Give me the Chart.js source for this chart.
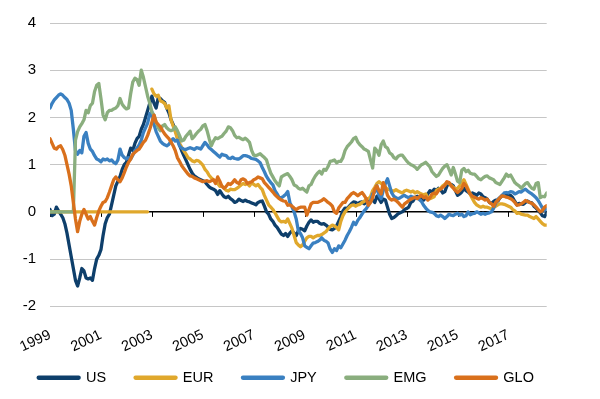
<!DOCTYPE html>
<html><head><meta charset="utf-8">
<script src="https://cdn.jsdelivr.net/npm/chart.js@4/dist/chart.umd.min.js"></script>
<style>html,body{margin:0;padding:0;background:#fff}</style>
</head><body>
<canvas id="c" width="600" height="399"></canvas>
<script>
// Monthly values, Jan 1999 .. Jul 2018 (one row per year)
const tickLabels = ['1999','2001','2003','2005','2007','2009','2011','2013','2015','2017'];
const seriesNames = ['US','EUR','JPY','EMG','GLO'];

const US = [
 0.05,-0.08,-0.05,0.1,0.02,-0.05,-0.12,-0.25,-0.45,-0.7,-0.95,-1.2,
 -1.45,-1.57,-1.4,-1.2,-1.25,-1.4,-1.42,-1.4,-1.45,-1.2,-1.0,-0.92,
 -0.8,-0.5,-0.25,-0.12,-0.05,0.15,0.35,0.55,0.65,0.75,0.9,1.0,
 1.05,1.2,1.35,1.3,1.45,1.55,1.6,1.75,1.85,2.0,2.15,2.3,
 2.45,2.3,2.2,2.42,2.4,2.35,2.32,2.2,2.1,1.95,1.85,1.75,
 1.6,1.42,1.3,1.2,1.1,1.0,0.9,0.82,0.76,0.73,0.7,0.68,
 0.66,0.64,0.58,0.53,0.5,0.48,0.45,0.37,0.45,0.38,0.32,0.3,
 0.33,0.28,0.25,0.2,0.22,0.27,0.24,0.22,0.25,0.22,0.21,0.19,
 0.17,0.15,0.2,0.22,0.23,0.12,0.0,-0.05,-0.15,-0.2,-0.28,-0.33,
 -0.4,-0.47,-0.5,-0.46,-0.52,-0.45,-0.4,-0.45,-0.5,-0.4,-0.35,-0.37,
 -0.4,-0.3,-0.22,-0.17,-0.22,-0.2,-0.2,-0.24,-0.26,-0.25,-0.28,-0.32,
 -0.37,-0.38,-0.35,-0.3,-0.2,-0.1,0.02,0.08,0.07,0.12,0.17,0.21,
 0.2,0.17,0.2,0.21,0.17,0.2,0.23,0.27,0.25,0.2,0.33,0.28,
 0.2,0.27,0.25,0.1,-0.05,-0.14,-0.12,-0.08,-0.04,-0.02,0.0,0.05,
 0.07,0.1,0.2,0.23,0.3,0.33,0.3,0.32,0.25,0.3,0.38,0.45,
 0.42,0.48,0.45,0.5,0.47,0.4,0.43,0.55,0.6,0.58,0.55,0.45,
 0.35,0.38,0.42,0.5,0.45,0.42,0.38,0.4,0.38,0.35,0.4,0.38,
 0.32,0.3,0.27,0.2,0.18,0.22,0.25,0.23,0.3,0.35,0.38,0.36,
 0.34,0.35,0.3,0.22,0.15,0.18,0.17,0.16,0.2,0.23,0.2,0.19,
 0.12,0.08,0.03,-0.02,-0.08,-0.1,-0.02
];

const EUR = [
 0,0,0,0,0,0,0,0,0,0,0,0,
 0,0,0,0,0,0,0,0,0,0,0,0,
 0,0,0,0,0,0,0,0,0,0,0,0,
 0,0,0,0,0,0,0,0,0,0,0,null,
 2.6,2.5,2.45,2.47,2.35,2.33,2.3,2.2,2.25,1.95,1.82,1.7,
 1.55,1.45,1.37,1.3,1.23,1.15,1.12,1.08,1.06,1.09,1.08,1.04,
 0.99,0.9,0.85,0.77,0.72,0.68,0.65,0.6,0.54,0.55,0.5,0.46,
 0.44,0.48,0.47,0.47,0.5,0.53,0.57,0.6,0.58,0.6,0.55,0.62,
 0.58,0.55,0.58,0.52,0.47,0.35,0.25,0.15,0.1,0.05,-0.02,-0.1,
 -0.18,-0.21,-0.2,-0.22,-0.15,-0.25,-0.35,-0.5,-0.65,-0.7,-0.74,-0.7,
 -0.62,-0.55,-0.52,-0.52,-0.55,-0.52,-0.5,-0.5,-0.48,-0.45,-0.42,-0.36,
 -0.31,-0.28,-0.3,-0.33,-0.38,-0.2,-0.08,0.0,0.05,0.1,0.14,0.15,
 0.12,0.15,0.16,0.2,0.22,0.28,0.28,0.32,0.45,0.52,0.6,0.64,
 0.6,0.56,0.52,0.48,0.47,0.45,0.44,0.47,0.44,0.42,0.4,0.44,
 0.46,0.44,0.42,0.44,0.4,0.43,0.4,0.38,0.36,0.38,0.3,0.28,
 0.3,0.32,0.45,0.48,0.5,0.55,0.58,0.62,0.6,0.56,0.52,0.48,
 0.5,0.55,0.62,0.68,0.58,0.48,0.37,0.28,0.2,0.15,0.12,0.1,
 0.12,0.1,0.1,0.08,0.07,0.1,0.12,0.15,0.17,0.17,0.16,0.14,
 0.12,0.1,0.05,0.02,-0.03,-0.02,-0.05,-0.06,-0.07,-0.07,-0.1,-0.12,
 -0.14,-0.1,-0.15,-0.2,-0.25,-0.28,-0.28
];

const JPY = [
 2.2,2.3,2.37,2.42,2.47,2.5,2.47,2.42,2.38,2.3,2.15,1.75,
 1.3,1.22,1.3,1.25,1.6,1.68,1.45,1.33,1.28,1.19,1.12,1.1,
 1.06,1.12,1.1,1.12,1.08,1.1,1.05,1.02,1.1,1.33,1.2,1.15,
 1.12,1.15,1.12,1.2,1.3,1.35,1.42,1.52,1.68,1.78,1.88,2.08,
 2.12,1.85,1.7,1.6,1.5,1.45,1.42,1.4,1.43,1.5,1.55,1.5,
 1.52,1.4,1.35,1.33,1.32,1.34,1.36,1.34,1.32,1.36,1.35,1.33,
 1.4,1.47,1.42,1.36,1.32,1.28,1.24,1.2,1.16,1.22,1.2,1.19,
 1.14,1.13,1.16,1.13,1.12,1.12,1.15,1.19,1.19,1.18,1.16,1.13,
 1.12,1.11,1.08,1.04,0.94,0.85,0.75,0.68,0.62,0.57,0.45,0.38,
 0.3,0.3,0.33,0.37,0.43,0.2,0.1,0.0,-0.15,-0.4,-0.46,-0.55,
 -0.72,-0.75,-0.78,-0.72,-0.66,-0.65,-0.63,-0.6,-0.55,-0.6,-0.62,-0.66,
 -0.79,-0.86,-0.78,-0.82,-0.72,-0.76,-0.68,-0.6,-0.5,-0.42,-0.33,-0.22,
 -0.27,-0.18,-0.12,-0.05,0.02,0.07,0.14,0.22,0.38,0.42,0.55,0.35,
 0.28,0.45,0.6,0.7,0.55,0.4,0.33,0.3,0.28,0.3,0.33,0.35,
 0.32,0.3,0.33,0.31,0.3,0.3,0.26,0.22,0.14,0.08,0.03,0.0,
 -0.01,-0.03,-0.08,-0.1,-0.07,-0.1,-0.14,-0.1,-0.05,-0.07,-0.08,-0.05,
 -0.03,-0.07,-0.05,-0.1,-0.08,0.0,-0.06,-0.04,-0.03,0.0,-0.02,-0.05,
 -0.03,-0.05,-0.03,-0.02,0.0,0.08,0.18,0.27,0.3,0.34,0.4,0.41,
 0.4,0.43,0.42,0.38,0.4,0.43,0.42,0.46,0.48,0.44,0.41,0.38,
 0.34,0.3,0.24,0.16,0.08,0.03,0.06
];

const EMG = [
 0,0,0,0,0,0,0,0,0,0,0,0,
 1.52,1.7,1.8,1.87,1.95,2.15,2.1,2.25,2.3,2.55,2.68,2.72,
 2.4,2.05,1.95,2.1,2.15,2.15,2.18,2.2,2.25,2.4,2.28,2.22,
 2.18,2.2,2.5,2.75,2.83,2.8,2.68,3.0,2.85,2.65,2.45,2.3,
 2.12,2.05,1.9,1.78,1.72,1.82,1.85,1.78,1.74,1.72,1.74,1.8,
 1.72,1.62,1.5,1.52,1.6,1.65,1.71,1.55,1.6,1.66,1.71,1.75,
 1.82,1.85,1.72,1.55,1.4,1.5,1.57,1.55,1.58,1.6,1.66,1.71,
 1.8,1.78,1.72,1.62,1.57,1.58,1.55,1.53,1.56,1.52,1.47,1.3,
 1.2,1.19,1.21,1.23,1.19,1.15,1.1,0.95,0.82,0.74,0.66,0.6,
 0.55,0.74,0.77,0.79,0.81,0.75,0.68,0.57,0.55,0.5,0.48,0.5,
 0.46,0.42,0.55,0.58,0.68,0.76,0.82,0.86,0.8,0.9,0.88,0.96,
 1.07,1.08,1.1,1.04,1.07,1.07,1.15,1.3,1.38,1.43,1.48,1.55,
 1.58,1.48,1.42,1.38,1.33,1.31,1.28,1.1,0.93,1.35,1.3,1.2,
 1.42,1.5,1.38,1.35,1.25,1.22,1.15,1.12,1.18,1.2,1.2,1.14,
 1.08,1.03,1.0,0.98,0.95,0.9,0.95,1.0,1.02,1.05,1.0,0.95,
 0.85,0.8,0.75,0.78,0.85,0.92,0.97,1.0,0.9,0.78,0.94,0.8,
 0.65,0.62,0.88,0.92,0.85,0.88,0.82,0.8,0.8,0.75,0.7,0.68,
 0.72,0.75,0.76,0.72,0.7,0.68,0.62,0.6,0.58,0.65,0.72,0.8,
 0.75,0.78,0.7,0.62,0.58,0.55,0.5,0.55,0.6,0.62,0.55,0.5,
 0.48,0.6,0.62,0.3,0.33,0.32,0.4
];

const GLO = [
 1.55,1.45,1.35,1.33,1.38,1.4,1.32,1.2,1.0,0.8,0.55,0.2,
 -0.15,-0.42,-0.2,-0.05,0.05,-0.05,-0.15,-0.1,-0.2,-0.28,-0.12,0.02,
 0.12,0.2,0.22,0.3,0.42,0.55,0.68,0.74,0.68,0.64,0.72,0.83,
 0.95,1.05,1.12,1.22,1.26,1.3,1.33,1.4,1.47,1.52,1.62,1.75,
 1.9,2.05,1.9,1.85,1.8,1.72,1.65,1.6,1.55,1.48,1.4,1.3,
 1.15,1.07,0.98,0.92,0.86,0.8,0.76,0.75,0.72,0.7,0.68,0.66,
 0.64,0.65,0.66,0.64,0.66,0.68,0.6,0.74,0.65,0.54,0.5,0.54,
 0.6,0.58,0.62,0.68,0.62,0.6,0.68,0.7,0.67,0.6,0.62,0.64,
 0.68,0.7,0.74,0.72,0.7,0.62,0.57,0.52,0.47,0.42,0.36,0.32,
 0.28,0.25,0.23,0.22,0.14,0.15,0.12,0.08,0.05,0.08,0.1,0.1,
 0.1,-0.07,0.05,0.17,0.2,0.2,0.2,0.22,0.24,0.28,0.24,0.2,
 0.17,0.12,0.0,-0.03,0.08,0.14,0.2,0.2,0.28,0.33,0.38,0.41,
 0.38,0.34,0.38,0.41,0.35,0.28,0.14,0.2,0.3,0.48,0.55,0.45,
 0.38,0.62,0.52,0.35,0.28,0.25,0.27,0.24,0.2,0.15,0.1,0.17,
 0.2,0.24,0.27,0.29,0.31,0.28,0.32,0.35,0.3,0.32,0.25,0.3,
 0.38,0.4,0.38,0.45,0.48,0.52,0.56,0.64,0.62,0.55,0.5,0.45,
 0.41,0.45,0.5,0.6,0.55,0.45,0.38,0.33,0.31,0.29,0.27,0.3,
 0.28,0.25,0.27,0.2,0.17,0.12,0.2,0.25,0.3,0.34,0.33,0.31,
 0.3,0.28,0.25,0.2,0.14,0.15,0.17,0.2,0.24,0.22,0.2,0.18,
 0.15,0.1,0.05,0.0,0.03,0.1,0.13
];

const seriesValues = [US, EUR, JPY, EMG, GLO];
const seriesColors = ['#0e3f6b', '#e0a82c', '#3a80c1', '#8aae7e', '#d9701c'];
const monthIndex = US.map((_, i) => i);

Chart.defaults.font.family = '"Liberation Sans", Arial, Helvetica, sans-serif';
Chart.defaults.font.size = 15;
Chart.defaults.color = '#000';

const zeroTicks = {
  id: 'zeroTicks',
  afterLayout(chart) {
    // let rotated x labels extend below the axis box (no clipping)
    chart.scales.x.bottom += 20;
  },
  beforeDatasetsDraw(chart) {
    const xs = chart.scales.x, ys = chart.scales.y;
    const y0 = ys.getPixelForValue(0);
    const ctx = chart.ctx;
    ctx.save();
    ctx.strokeStyle = '#000';
    ctx.lineWidth = 1;
    xs.ticks.forEach(t => {
      const px = Math.round(xs.getPixelForValue(t.value)) + 0.5;
      ctx.beginPath();
      ctx.moveTo(px, y0);
      ctx.lineTo(px, y0 + 5);
      ctx.stroke();
    });
    ctx.restore();
  }
};

new Chart(document.getElementById('c'), {
  type: 'line',
  data: {
    labels: monthIndex,
    datasets: seriesNames.map((name, i) => ({
      label: name,
      data: seriesValues[i],
      borderColor: seriesColors[i],
      backgroundColor: seriesColors[i],
      borderWidth: 3.3,
      pointRadius: 0,
      tension: 0,
      fill: false,
      spanGaps: false,
      borderJoinStyle: 'round',
      borderCapStyle: 'round',
      order: seriesNames.length - i
    }))
  },
  options: {
    responsive: false,
    animation: false,
    layout: { padding: { top: 17, right: 27.4, bottom: 4, left: 0 } },
    scales: {
      x: {
        type: 'linear',
        min: 0,
        max: 234,
        grid: { display: false },
        border: { display: false },
        afterBuildTicks(scale) {
          scale.ticks = tickLabels.map((_, i) => ({ value: i * 24 }));
        },
        afterFit(scale) { scale.height = 34.7; },
        ticks: {
          autoSkip: false,
          minRotation: 25,
          maxRotation: 25,
          padding: 12,
          font: { size: 14.5 },
          callback: (v, i) => tickLabels[i]
        }
      },
      y: {
        min: -2,
        max: 4,
        afterFit(scale) { scale.width = 50; },
        border: { display: false },
        grid: {
          drawTicks: false,
          color: ctx => ctx.tick && ctx.tick.value === 0 ? '#000' : '#c6c6c6',
          lineWidth: ctx => ctx.tick && ctx.tick.value === 0 ? 1.5 : 1
        },
        ticks: { stepSize: 1, padding: 14, font: { size: 15 } }
      },
      y2: {
        position: 'right',
        display: true,
        min: 0, max: 1,
        grid: { display: false },
        border: { display: false },
        ticks: { display: false },
        afterFit(scale) { scale.width = 25.9; }
      }
    },
    plugins: {
      tooltip: { enabled: false },
      legend: {
        position: 'bottom',
        labels: {
          usePointStyle: true,
          pointStyle: 'line',
          pointStyleWidth: 40,
          padding: 29.5,
          font: { size: 14.5 },
          sort: (a, b) => a.datasetIndex - b.datasetIndex,
          generateLabels(chart) {
            const items = Chart.defaults.plugins.legend.labels.generateLabels(chart);
            return items.map(it => Object.assign(it, { lineWidth: 4.3, lineCap: 'round', pointStyle: 'line' }));
          }
        }
      }
    }
  },
  plugins: [zeroTicks]
});
</script>
</body></html>
